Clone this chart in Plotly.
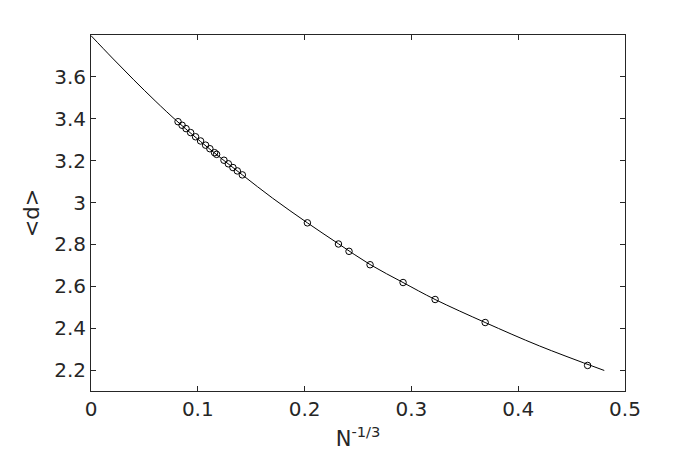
import plotly.graph_objects as go

# Data points: x = N^(-1/3), y = <d>
pts_x = [0.0815, 0.0853, 0.0890, 0.0933, 0.0979, 0.1026, 0.1073, 0.1113, 0.1157,
         0.1176, 0.1245, 0.1286, 0.1329, 0.1370, 0.1417,
         0.2026, 0.2317, 0.2416, 0.2613, 0.2922, 0.3222, 0.3691, 0.4650]
pts_y = [3.386, 3.369, 3.353, 3.334, 3.314, 3.294, 3.274, 3.257, 3.238,
         3.230, 3.202, 3.185, 3.167, 3.151, 3.132,
         2.903, 2.802, 2.767, 2.703, 2.618, 2.537, 2.427, 2.222]

# Fitted curve
fit_x = [0.0, 0.02, 0.04, 0.06, 0.0815, 0.11, 0.1417, 0.17, 0.2026, 0.2317, 0.2613,
         0.2922, 0.3222, 0.3691, 0.42, 0.4806]
fit_y = [3.797, 3.690, 3.586, 3.486, 3.384, 3.260, 3.132, 3.021, 2.903, 2.803, 2.704,
         2.618, 2.537, 2.427, 2.315, 2.198]

x_ticks = [0, 0.1, 0.2, 0.3, 0.4, 0.5]
y_ticks = [2.2, 2.4, 2.6, 2.8, 3.0, 3.2, 3.4, 3.6]

ink = "#262626"
font = "DejaVu Sans"

fig = go.Figure()
fig.add_trace(go.Scatter(x=fit_x, y=fit_y, mode="lines", line=dict(color="black", width=1, shape="spline"),
                         hoverinfo="skip", showlegend=False))
fig.add_trace(go.Scatter(x=pts_x, y=pts_y, mode="markers",
                         marker=dict(symbol="circle-open", size=6.5, color="black", line=dict(width=1, color="black")),
                         showlegend=False))

axis_common = dict(showgrid=False, zeroline=False, showline=True, linecolor=ink, linewidth=1,
                   mirror="ticks", ticks="inside", ticklen=5, tickcolor=ink, tickwidth=1,
                   tickfont=dict(family=font, size=20, color=ink))

fig.update_xaxes(range=[0, 0.5], tickvals=x_ticks, ticktext=[("%g" % v) for v in x_ticks],
                 title=dict(text="N<sup>-1/3</sup>", font=dict(family=font, size=21, color=ink), standoff=11),
                 **axis_common)
fig.update_yaxes(range=[2.1, 3.8], tickvals=y_ticks, ticktext=[("%g" % v) for v in y_ticks],
                 title=dict(text="&lt;d&gt;", font=dict(family=font, size=21, color=ink), standoff=8),
                 **axis_common)

fig.update_layout(width=691, height=460, margin=dict(l=83, r=74, t=27, b=77),
                  plot_bgcolor="white", paper_bgcolor="white", showlegend=False)

fig.write_html("out.html")
